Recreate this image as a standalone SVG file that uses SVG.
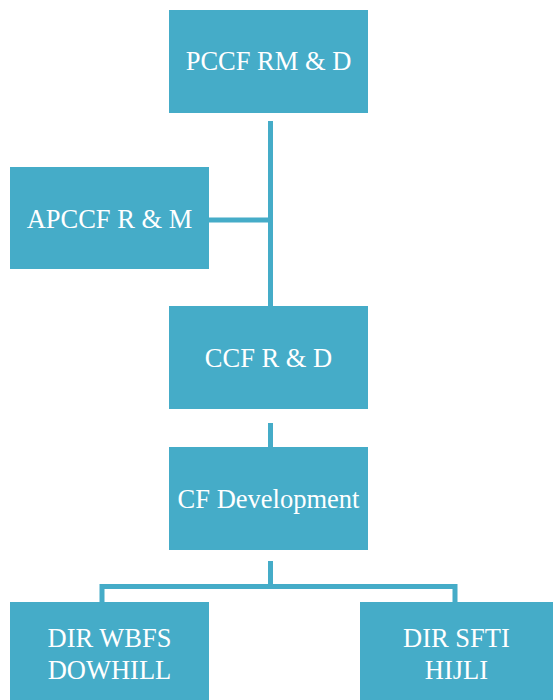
<svg xmlns="http://www.w3.org/2000/svg" width="553" height="700" viewBox="0 0 553 700">
<style>
.box{fill:#45acc8}
.t{fill:#fff;font-family:"Liberation Serif","Times New Roman",serif;font-size:26.5px;text-anchor:middle}
.c{stroke:#45acc8;stroke-width:5;fill:none}
</style>
<rect width="553" height="700" fill="#fff"/>
<g id="connectors">
<line class="c" x1="270.5" y1="121" x2="270.5" y2="306"/>
<line class="c" x1="209" y1="220" x2="270.5" y2="220"/>
<line class="c" x1="270.5" y1="423" x2="270.5" y2="447"/>
<line class="c" x1="270.5" y1="561" x2="270.5" y2="586.5"/>
<polyline class="c" points="102,602 102,586.5 455,586.5 455,602"/>
</g>
<g id="n1"><rect class="box" x="169" y="10" width="199" height="103"/><text class="t" x="268.5" y="70">PCCF RM &amp; D</text></g>
<g id="n2"><rect class="box" x="10" y="167" width="199" height="102"/><text class="t" x="109.5" y="228">APCCF R &amp; M</text></g>
<g id="n3"><rect class="box" x="169" y="306" width="199" height="103"/><text class="t" x="268.5" y="367">CCF R &amp; D</text></g>
<g id="n4"><rect class="box" x="169" y="447" width="199" height="103"/><text class="t" x="268.5" y="508">CF Development</text></g>
<g id="n5"><rect class="box" x="10" y="602" width="199" height="98"/><text class="t" x="109.5" y="647">DIR WBFS</text><text class="t" x="109.5" y="679">DOWHILL</text></g>
<g id="n6"><rect class="box" x="360" y="602" width="193" height="98"/><text class="t" x="456.5" y="647">DIR SFTI</text><text class="t" x="456.5" y="679">HIJLI</text></g>
</svg>
